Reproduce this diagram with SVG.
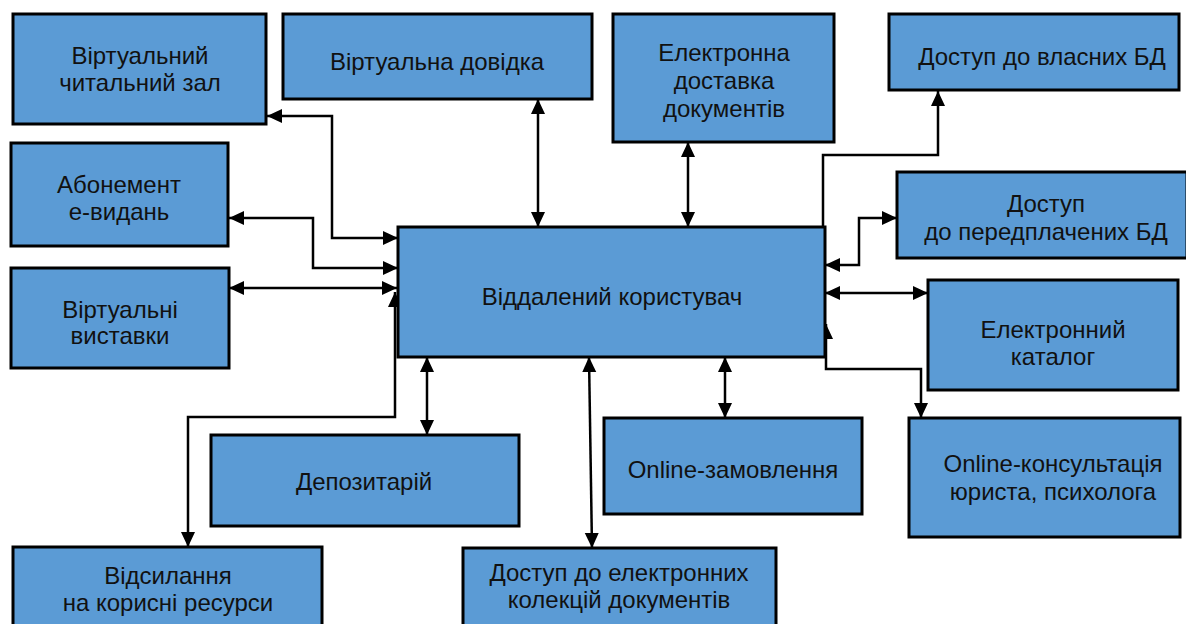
<svg xmlns="http://www.w3.org/2000/svg" width="1186" height="624" viewBox="0 0 1186 624">
<style>
.box{fill:#5B9BD5;stroke:#000;stroke-width:3}
.t{font-family:"Liberation Sans",Arial,sans-serif;font-size:24px;fill:#111;text-anchor:middle}
.c{fill:none;stroke:#000;stroke-width:2.5}
</style>
<defs>
<marker id="ah" markerUnits="userSpaceOnUse" markerWidth="16" markerHeight="16" viewBox="0 0 16 16" refX="15" refY="8" orient="auto-start-reverse">
<path d="M0,1 L15,8 L0,15 z" fill="#000"/>
</marker>
</defs>
<rect width="1186" height="624" fill="#fff"/>
<g id="connectors">
<path class="c" d="M267,116 H332 V238 H398" marker-start="url(#ah)" marker-end="url(#ah)"/>
<path class="c" d="M229,218 H313 V268 H398" marker-start="url(#ah)" marker-end="url(#ah)"/>
<path class="c" d="M229,288 H397" marker-start="url(#ah)" marker-end="url(#ah)"/>
<path class="c" d="M188,547 V417 H395 V292" marker-start="url(#ah)" marker-end="url(#ah)"/>
<path class="c" d="M538,99 V227" marker-start="url(#ah)" marker-end="url(#ah)"/>
<path class="c" d="M688,142 V227" marker-start="url(#ah)" marker-end="url(#ah)"/>
<path class="c" d="M823,227 V155 H938 V91" marker-end="url(#ah)"/>
<path class="c" d="M825,265 H859 V218 H897" marker-start="url(#ah)" marker-end="url(#ah)"/>
<path class="c" d="M825,293 H928" marker-start="url(#ah)" marker-end="url(#ah)"/>
<path class="c" d="M826,324 V369 H921 V418" marker-start="url(#ah)" marker-end="url(#ah)"/>
<path class="c" d="M427,357 V435" marker-start="url(#ah)" marker-end="url(#ah)"/>
<path class="c" d="M725,357 V418" marker-start="url(#ah)" marker-end="url(#ah)"/>
<path class="c" d="M589,357 L592,548" marker-start="url(#ah)" marker-end="url(#ah)"/>
</g>
<g id="n-reading-room"><rect class="box" x="13" y="14" width="253" height="110"/><text class="t" x="140" y="64">Віртуальний</text><text class="t" x="140" y="91">читальний зал</text></g>
<g id="n-reference"><rect class="box" x="283" y="14" width="309" height="85"/><text class="t" x="437" y="70">Віртуальна довідка</text></g>
<g id="n-delivery"><rect class="box" x="613" y="14" width="221" height="128"/><text class="t" x="724" y="61">Електронна</text><text class="t" x="724" y="89">доставка</text><text class="t" x="724" y="117">документів</text></g>
<g id="n-own-db"><rect class="box" x="889" y="14" width="290" height="76"/><text class="t" x="1042" y="65">Доступ до власних БД</text></g>
<g id="n-subscription"><rect class="box" x="11" y="143" width="217" height="103"/><text class="t" x="119" y="193">Абонемент</text><text class="t" x="119" y="220">е-видань</text></g>
<g id="n-exhibitions"><rect class="box" x="11" y="268" width="218" height="100"/><text class="t" x="120" y="318">Віртуальні</text><text class="t" x="120" y="344">виставки</text></g>
<g id="n-main"><rect class="box" x="398" y="227" width="427" height="130"/><text class="t" x="612" y="305">Віддалений користувач</text></g>
<g id="n-paid-db"><rect class="box" x="897" y="172" width="290" height="86"/><text class="t" x="1046" y="212">Доступ</text><text class="t" x="1046" y="240">до передплачених БД</text></g>
<g id="n-catalog"><rect class="box" x="928" y="280" width="250" height="110"/><text class="t" x="1053" y="338">Електронний</text><text class="t" x="1053" y="365">каталог</text></g>
<g id="n-consult"><rect class="box" x="909" y="418" width="271" height="119"/><text class="t" x="1053" y="472">Online-консультація</text><text class="t" x="1053" y="500">юриста, психолога</text></g>
<g id="n-depository"><rect class="box" x="211" y="435" width="308" height="91"/><text class="t" x="364" y="490">Депозитарій</text></g>
<g id="n-order"><rect class="box" x="604" y="418" width="258" height="96"/><text class="t" x="733" y="478">Online-замовлення</text></g>
<g id="n-collections"><rect class="box" x="463" y="548" width="313" height="80"/><text class="t" x="619" y="581">Доступ до електронних</text><text class="t" x="619" y="608">колекцій документів</text></g>
<g id="n-links"><rect class="box" x="13" y="547" width="309" height="81"/><text class="t" x="168" y="584">Відсилання</text><text class="t" x="168" y="611">на корисні ресурси</text></g>
</svg>
